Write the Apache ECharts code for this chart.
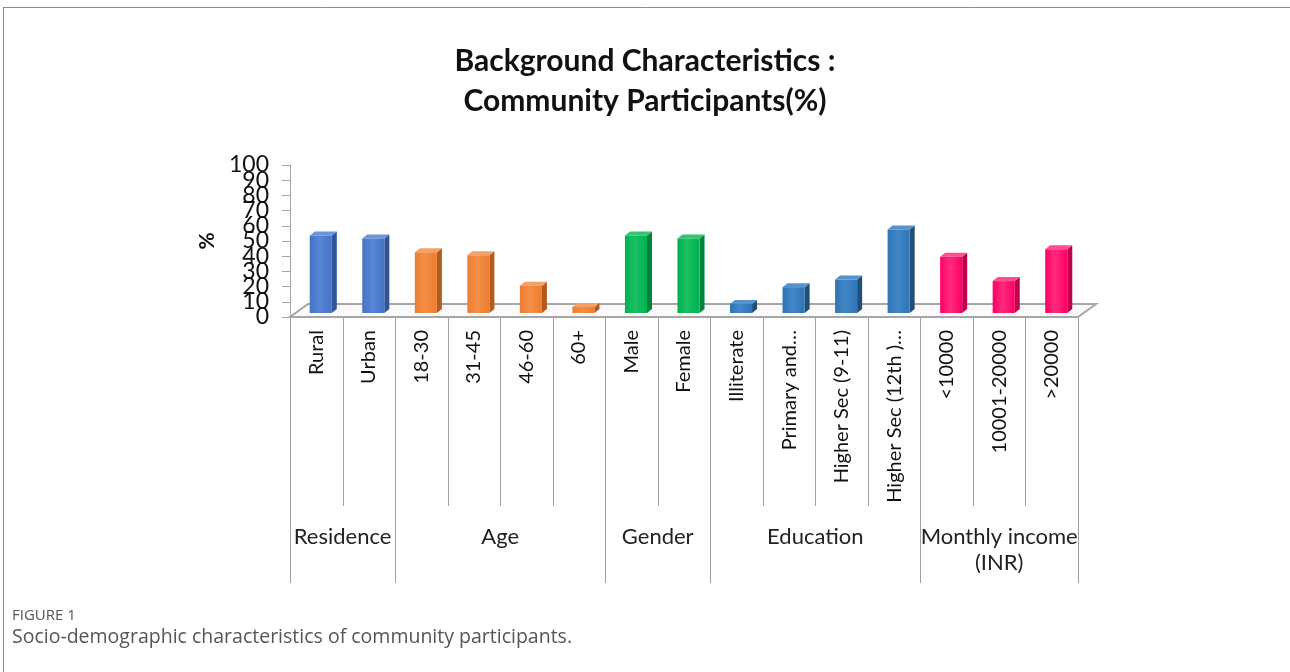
<!DOCTYPE html>
<html><head><meta charset="utf-8">
<script src="https://cdn.jsdelivr.net/npm/echarts@6/dist/echarts.min.js"></script>
<style>html,body{margin:0;padding:0;background:#fff}#c{width:1290px;height:672px}</style>
</head><body><div id="c"></div><script>
// ---- data ----
const categories = ['Rural','Urban','18-30','31-45','46-60','60+','Male','Female','Illiterate','Primary and…','Higher Sec (9-11)','Higher Sec (12th )…','<10000','10001-20000','>20000'];
const values = [51,49,40,38,18,4,51,49,6,17,22,55,37,21,42];
const groupNames = ['Residence','Age','Gender','Education','Monthly income\n(INR)'];
const groupSizes = [2,4,2,4,3];
const yTicks = [0,10,20,30,40,50,60,70,80,90,100];
const yMin = 0, yMax = 100, yStep = 10;
// ---- styles ----
const palette = [
  {front:'#4472C4', light:'#5A86D8', side:'#2F5597', top:'#6B93DE'},
  {front:'#ED7D31', light:'#F38E48', side:'#B35A1F', top:'#F5A066'},
  {front:'#00B050', light:'#1CC064', side:'#00843C', top:'#33C772'},
  {front:'#2E75B6', light:'#4286C6', side:'#1F4E79', top:'#5592CF'},
  {front:'#FF0066', light:'#FF2A7E', side:'#C0004D', top:'#FF4D8F'}
];
const groupOf = [];
groupSizes.forEach((n,g)=>{for(let k=0;k<n;k++) groupOf.push(g);});
const boundaries = [0];
groupSizes.forEach(n=>boundaries.push(boundaries[boundaries.length-1]+n));

const chart = echarts.init(document.getElementById('c'));

function renderBar(params, api){
  const i = api.value(0), v = api.value(1);
  const base = api.coord([i,0]), top = api.coord([i,v]);
  const colW = api.size([1,0])[0];
  const w = colW*0.42;
  const ox = 4.5, oy = -4, dx = 5, dy = -4;
  const x0 = base[0] - w/2 + ox, x1 = x0 + w;
  const yb = base[1] + oy, yt = top[1] + oy;
  const c = palette[groupOf[i]];
  return {type:'group', children:[
    {type:'polygon', shape:{points:[[x1,yb],[x1+dx,yb+dy],[x1+dx,yt+dy],[x1,yt]]}, style:{fill:c.side}},
    {type:'polygon', shape:{points:[[x0,yt],[x1,yt],[x1+dx,yt+dy],[x0+dx,yt+dy]]}, style:{fill:c.top}},
    {type:'rect', shape:{x:x0,y:yt,width:w,height:yb-yt}, style:{fill:new echarts.graphic.LinearGradient(0,0,1,0,[
      {offset:0,color:c.front},{offset:0.45,color:c.light},{offset:1,color:c.front}])}}
  ]};
}

function renderFloor(params, api){
  const cs = params.coordSys;
  const yb = cs.y + cs.height, xl = cs.x, xr = cs.x + cs.width;
  return {type:'polygon', shape:{points:[[xl,yb],[xr,yb],[xr+18,yb-13],[xl+18,yb-13]]},
    style:{fill:'#fafafa', stroke:'#A6A6A6', lineWidth:2}};
}

function renderAnno(params, api){
  const cs = params.coordSys;
  const y0 = cs.y + cs.height + 1;
  const colW = api.size([1,0])[0];
  const bx = k => (k < categories.length ? api.coord([k,0])[0] - colW/2 : api.coord([categories.length-1,0])[0] + colW/2);
  const children = [];
  for (let k=0;k<=categories.length;k++){
    const isGroup = boundaries.indexOf(k) >= 0;
    const x = Math.round(bx(k)) + 0.5;
    children.push({type:'line', shape:{x1:x,y1:y0,x2:x,y2:y0 + (isGroup ? 265 : 188)}, style:{stroke:'#A0A0A0', lineWidth:1}});
  }
  for (let g=0; g<groupNames.length; g++){
    const cx = (bx(boundaries[g]) + bx(boundaries[g+1]))/2;
    children.push({type:'text', x:cx, y:y0+206, style:{text:groupNames[g], fill:'#222', font:'22px Lato', align:'center', verticalAlign:'top', lineHeight:26}});
  }
  // y tick labels (placed via the value scale)
  yTicks.forEach(t=>{
    const p = api.coord([0, t]);
    children.push({type:'text', x:cs.x - 21, y:p[1], style:{text:String(t), fill:'#111', font:'23px Lato', align:'right', verticalAlign:'middle'}});
  });
  return {type:'group', children};
}

chart.setOption({
  animation:false,
  title:{text:'Background Characteristics :\nCommunity Participants(%)', left:'center', top:36,
    textStyle:{fontFamily:'Lato', fontSize:30, fontWeight:'bold', color:'#111', lineHeight:40}},
  grid:{left:290, right:212, top:165, bottom:355},
  xAxis:{type:'category', data:categories, axisLine:{show:true, lineStyle:{color:'#A6A6A6', width:1}},
    axisTick:{show:false},
    axisLabel:{rotate:90, interval:0, margin:13, fontFamily:'Lato', fontSize:20, color:'#111'}},
  yAxis:{type:'value', min:yMin, max:yMax, interval:yStep, name:'%', nameLocation:'middle', nameGap:72, nameRotate:90,
    nameTextStyle:{fontFamily:'Lato', fontSize:21, fontWeight:'bold', color:'#111'},
    axisLine:{show:true, lineStyle:{color:'#A6A6A6'}}, axisTick:{show:true, length:8, lineStyle:{color:'#A6A6A6'}},
    splitLine:{show:false},
    axisLabel:{show:false}},
  series:[
    {type:'custom', z:1, renderItem:renderFloor, data:[[0,0]], clip:false, silent:true},
    {type:'custom', z:3, renderItem:renderBar, data:values.map((v,i)=>[i,v]), encode:{x:0,y:1}},
    {type:'custom', z:2, renderItem:renderAnno, data:[[0,0]], clip:false, silent:true}
  ],
  graphic:[
    {type:'line', shape:{x1:3,y1:7.5,x2:1290,y2:7.5}, style:{stroke:'#8a8a8a', lineWidth:1}},
    {type:'line', shape:{x1:3.5,y1:7,x2:3.5,y2:672}, style:{stroke:'#8a8a8a', lineWidth:1}},
    {type:'text', left:12, top:608, style:{text:'FIGURE 1', fill:'#555', font:'15px "Open Sans"'}},
    {type:'text', left:12, top:627, style:{text:'Socio-demographic characteristics of community participants.', fill:'#555', font:'19.5px "Open Sans"'}}
  ]
});
</script></body></html>
